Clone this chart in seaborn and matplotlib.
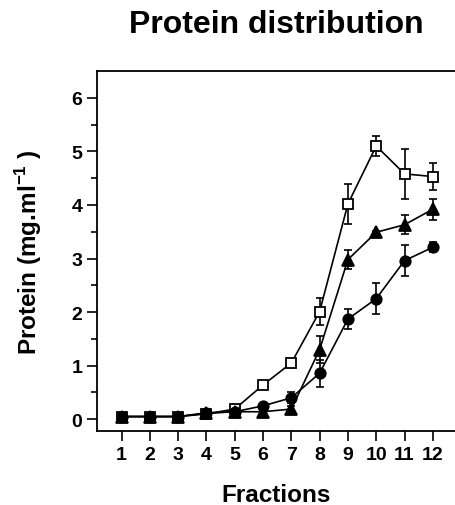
import numpy as np
import pandas as pd
import seaborn as sns
import matplotlib
matplotlib.use("Agg")
import matplotlib.pyplot as plt

# Data
fractions = list(range(1, 13))
square_mean = [0.05, 0.05, 0.05, 0.10, 0.19, 0.64, 1.05, 2.01, 4.02, 5.10, 4.58, 4.53]
square_err = [0.03, 0.03, 0.03, 0.03, 0.03, 0.03, 0.04, 0.25, 0.38, 0.18, 0.47, 0.25]
triangle_mean = [0.05, 0.05, 0.05, 0.12, 0.14, 0.14, 0.19, 1.30, 2.98, 3.49, 3.63, 3.92]
triangle_err = [0.03, 0.03, 0.03, 0.03, 0.03, 0.03, 0.05, 0.25, 0.17, 0.03, 0.18, 0.20]
circle_mean = [0.05, 0.05, 0.05, 0.11, 0.14, 0.25, 0.40, 0.86, 1.87, 2.25, 2.96, 3.21]
circle_err = [0.03, 0.03, 0.03, 0.03, 0.03, 0.03, 0.10, 0.25, 0.18, 0.29, 0.29, 0.09]

df = pd.concat([
    pd.DataFrame({"fraction": fractions, "protein": square_mean, "err": square_err, "group": "square"}),
    pd.DataFrame({"fraction": fractions, "protein": triangle_mean, "err": triangle_err, "group": "triangle"}),
    pd.DataFrame({"fraction": fractions, "protein": circle_mean, "err": circle_err, "group": "circle"}),
])

sns.set_style("ticks")
plt.rcParams["font.family"] = ["Liberation Sans", "DejaVu Sans"]
plt.rcParams["font.weight"] = "bold"
plt.rcParams["text.color"] = "black"
plt.rcParams["axes.labelcolor"] = "black"
plt.rcParams["xtick.color"] = "black"
plt.rcParams["ytick.color"] = "black"
plt.rcParams["mathtext.fontset"] = "custom"
plt.rcParams["mathtext.rm"] = "Liberation Sans:bold"
plt.rcParams["mathtext.bf"] = "Liberation Sans:bold"

fig = plt.figure(figsize=(4.56, 5.06), dpi=100)
ax = fig.add_axes([0.2127, 0.1462, 0.7873, 0.7115])

styles = {
    "square": dict(marker="s", mfc="white", ms=7),
    "triangle": dict(marker="^", mfc="black", ms=8.5),
    "circle": dict(marker="o", mfc="black", ms=7.5),
}

for name, sub in df.groupby("group", sort=False):
    st = styles[name]
    ax.errorbar(sub["fraction"], sub["protein"], yerr=sub["err"], fmt="none",
                ecolor="black", elinewidth=1.2, capsize=3.2, capthick=1.2, zorder=2)
    sns.lineplot(data=sub, x="fraction", y="protein", ax=ax, color="black",
                 linewidth=1.2, marker=st["marker"], markersize=st["ms"],
                 markerfacecolor=st["mfc"], markeredgecolor="black",
                 markeredgewidth=1.3, zorder=3)

ax.set_xlim(0.13, 12.82)
ax.set_ylim(-0.22, 6.5)
ax.set_xticks(fractions)
ax.set_yticks(range(0, 7))
ax.set_yticks(np.arange(0.5, 6.5, 1.0), minor=True)
ax.tick_params(axis="both", which="major", direction="out", length=7, width=1.2,
               labelsize=14, color="black", labelcolor="black")
ax.tick_params(axis="y", which="minor", direction="out", length=4, width=1.2, color="black")
ax.tick_params(axis="x", pad=4)
for lab in ax.get_xticklabels() + ax.get_yticklabels():
    lab.set_fontweight("bold")

for side in ["left", "bottom", "top"]:
    ax.spines[side].set_linewidth(1.3)
    ax.spines[side].set_color("black")
ax.spines["right"].set_visible(False)

ax.set_xlabel("Fractions", fontsize=17.5, fontweight="bold", labelpad=14, color="black")
ax.set_ylabel(r"Protein (mg.ml$^{-1}$ )", fontsize=17.5, fontweight="bold", labelpad=20,
              color="black")

fig.text(0.607, 1 - 33 / 506, "Protein distribution", ha="center", va="baseline",
         fontsize=23, fontweight="bold", color="black")

fig.savefig("out.png", dpi=100)
